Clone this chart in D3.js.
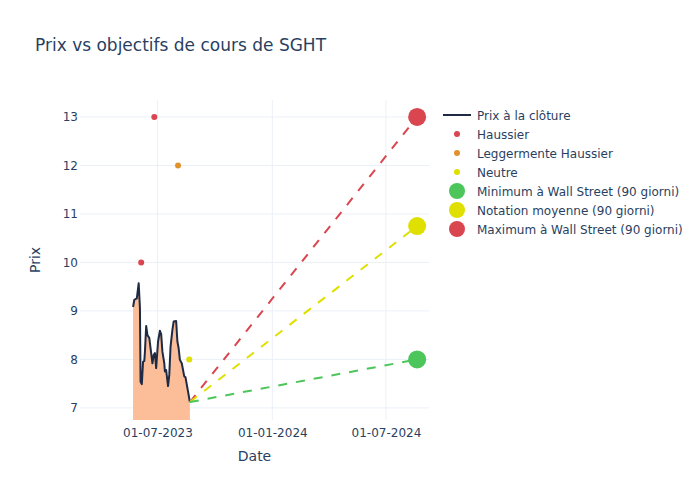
<!DOCTYPE html>
<html>
<head>
<meta charset="utf-8">
<script src="https://cdn.jsdelivr.net/npm/d3@7"></script>
<style>
  body { margin: 0; background: #fff; }
  text { font-family: "DejaVu Sans", "Open Sans", sans-serif; fill: #2a3f5f; }
</style>
</head>
<body>
<svg id="chart" width="700" height="500"></svg>
<script>
// ---- data ----
const priceDates = ["2023-05-23","2023-05-25","2023-05-29","2023-06-01","2023-06-03","2023-06-04","2023-06-06","2023-06-08","2023-06-10","2023-06-11","2023-06-13","2023-06-15","2023-06-18","2023-06-21","2023-06-23","2023-06-25","2023-06-27","2023-06-29","2023-07-02","2023-07-05","2023-07-07","2023-07-09","2023-07-12","2023-07-13","2023-07-15","2023-07-18","2023-07-20","2023-07-22","2023-07-25","2023-07-27","2023-07-31","2023-08-02","2023-08-04","2023-08-06","2023-08-09","2023-08-13","2023-08-15","2023-08-19","2023-08-22"];
const priceValues = [9.08,9.23,9.26,9.57,9.06,7.54,7.49,7.95,7.97,8.16,8.69,8.50,8.44,8.13,7.92,8.09,8.13,7.82,8.37,8.59,8.52,8.16,7.92,7.75,7.78,7.45,7.68,8.26,8.61,8.78,8.79,8.37,8.23,7.99,7.92,7.65,7.63,7.34,7.12];

const haussierDates = ["2023-06-05","2023-06-26"];
const haussierValues = [10, 13];
const legHaussierDates = ["2023-08-03"];
const legHaussierValues = [12];
const neutreDates = ["2023-08-21"];
const neutreValues = [8];

const targetDate = "2024-08-20";
const targetMin = 8;
const targetAvg = 10.75;
const targetMax = 13;

const xTickDates = ["2023-07-01","2024-01-01","2024-07-01"];
const yTicks = [7,8,9,10,11,12,13];

const legendLabels = ["Prix à la clôture","Haussier","Leggermente Haussier","Neutre","Minimum à Wall Street (90 giorni)","Notation moyenne (90 giorni)","Maximum à Wall Street (90 giorni)"];

// ---- setup ----
const parse = d3.timeParse("%Y-%m-%d");
const fmt = d3.timeFormat("%d-%m-%Y");
const W = 700, H = 500;
const m = {l: 80, r: 271, t: 100, b: 80};
const svg = d3.select("#chart");

const x = d3.scaleTime()
  .domain([parse("2023-02-27"), parse("2024-09-08")])
  .range([m.l, W - m.r]);
const y = d3.scaleLinear().domain([6.75, 13.35]).range([H - m.b, m.t]);

const colors = {
  line: "#1f2a44", fill: "#fbbe98",
  red: "#d9464f", orange: "#e0922c", yellow: "#dfdf00", green: "#4cc55a",
  grid: "#ebf0f8"
};

// gridlines
const g = svg.append("g");
g.selectAll(".hg").data(yTicks).enter().append("line")
  .attr("x1", m.l).attr("x2", W - m.r)
  .attr("y1", d => y(d)).attr("y2", d => y(d))
  .attr("stroke", colors.grid).attr("stroke-width", 1);
g.selectAll(".vg").data(xTickDates).enter().append("line")
  .attr("x1", d => x(parse(d))).attr("x2", d => x(parse(d)))
  .attr("y1", m.t).attr("y2", H - m.b)
  .attr("stroke", colors.grid).attr("stroke-width", 1);

// axes
const xAxis = d3.axisBottom(x).tickValues(xTickDates.map(parse)).tickFormat(fmt).tickSize(0).tickPadding(8);
const xa = svg.append("g").attr("transform", `translate(0,${H - m.b})`).call(xAxis);
xa.select(".domain").remove();
xa.selectAll("text").attr("font-size", 12).style("fill", "#2a3f5f").attr("font-family", "DejaVu Sans");

const yAxis = d3.axisLeft(y).tickValues(yTicks).tickFormat(d3.format("d")).tickSize(0).tickPadding(2);
const ya = svg.append("g").attr("transform", `translate(${m.l},0)`).call(yAxis);
ya.select(".domain").remove();
ya.selectAll("text").attr("font-size", 12).style("fill", "#2a3f5f").attr("font-family", "DejaVu Sans");

// clip
svg.append("clipPath").attr("id", "clip").append("rect")
  .attr("x", m.l).attr("y", m.t).attr("width", W - m.l - m.r).attr("height", H - m.t - m.b);
const plot = svg.append("g").attr("clip-path", "url(#clip)");

const price = priceDates.map((d, i) => ({date: parse(d), v: priceValues[i]}));

// area fill (to zero)
plot.append("path").datum(price)
  .attr("d", d3.area().x(d => x(d.date)).y0(y(0)).y1(d => y(d.v)))
  .attr("fill", colors.fill).attr("stroke", "none");

// line
plot.append("path").datum(price)
  .attr("d", d3.line().x(d => x(d.date)).y(d => y(d.v)))
  .attr("fill", "none").attr("stroke", colors.line).attr("stroke-width", 2)
  .attr("stroke-linejoin", "round");

// dashed target lines
const last = price[price.length - 1];
const tDate = parse(targetDate);
[[targetMax, colors.red], [targetAvg, colors.yellow], [targetMin, colors.green]].forEach(([v, c]) => {
  plot.append("line")
    .attr("x1", x(last.date)).attr("y1", y(last.v))
    .attr("x2", x(tDate)).attr("y2", y(v))
    .attr("stroke", c).attr("stroke-width", 2).attr("stroke-dasharray", "9,9");
});

// analyst points
function pts(dates, vals, color) {
  plot.selectAll(null).data(dates.map((d, i) => ({date: parse(d), v: vals[i]}))).enter()
    .append("circle").attr("cx", d => x(d.date)).attr("cy", d => y(d.v)).attr("r", 3)
    .attr("fill", color);
}
pts(haussierDates, haussierValues, colors.red);
pts(legHaussierDates, legHaussierValues, colors.orange);
pts(neutreDates, neutreValues, colors.yellow);

// target markers
[[targetMin, colors.green], [targetAvg, colors.yellow], [targetMax, colors.red]].forEach(([v, c]) => {
  svg.append("circle").attr("cx", x(tDate)).attr("cy", y(v)).attr("r", 9).attr("fill", c);
});

// title
svg.append("text").attr("x", 35).attr("y", 51).attr("font-size", 17).text("Prix vs objectifs de cours de SGHT");
// axis titles
svg.append("text").attr("x", (m.l + W - m.r) / 2).attr("y", 461).attr("text-anchor", "middle")
  .attr("font-size", 14).text("Date");
svg.append("text").attr("transform", `translate(40,${(m.t + H - m.b) / 2}) rotate(-90)`)
  .attr("text-anchor", "middle").attr("font-size", 14).text("Prix");

// legend
const legendSym = [
  {type: "line", color: colors.line},
  {type: "dot", r: 3, color: colors.red},
  {type: "dot", r: 3, color: colors.orange},
  {type: "dot", r: 3, color: colors.yellow},
  {type: "dot", r: 8, color: colors.green},
  {type: "dot", r: 8, color: colors.yellow},
  {type: "dot", r: 8, color: colors.red}
];
const lg = svg.append("g");
legendLabels.forEach((lab, i) => {
  const cy = 115 + i * 19;
  const s = legendSym[i];
  if (s.type === "line") {
    lg.append("line").attr("x1", 443).attr("x2", 471).attr("y1", cy).attr("y2", cy)
      .attr("stroke", s.color).attr("stroke-width", 2);
  } else {
    lg.append("circle").attr("cx", 457).attr("cy", cy).attr("r", s.r).attr("fill", s.color);
  }
  lg.append("text").attr("x", 477).attr("y", cy + 4.5).attr("font-size", 12).text(lab);
});
</script>
</body>
</html>
